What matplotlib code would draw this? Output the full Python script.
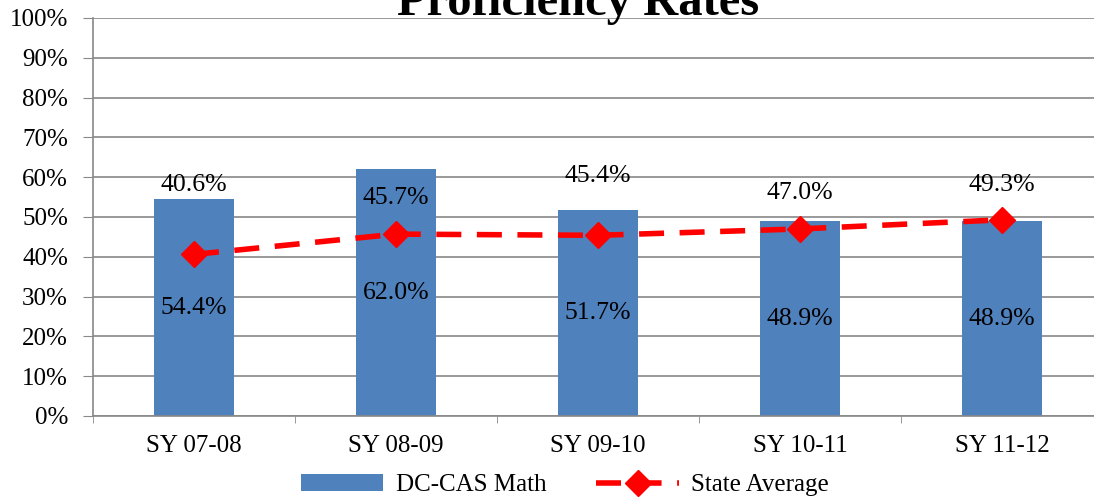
import matplotlib
matplotlib.use('Agg')
import numpy as np
import matplotlib.pyplot as plt

# data
years = ['SY 07-08', 'SY 08-09', 'SY 09-10', 'SY 10-11', 'SY 11-12']
dccas_math = [54.4, 62.0, 51.7, 48.9, 48.9]
state_avg = [40.6, 45.7, 45.4, 47.0, 49.3]

# label offsets above the line points (in % units)
state_lbl_off = [17.5, 9.0, 15.0, 9.0, 8.8]

plt.rcParams['font.family'] = ['Liberation Serif', 'DejaVu Serif']

fig = plt.figure(figsize=(10.94, 5), dpi=100)
ax = fig.add_axes([93 / 1094, 84 / 500, 1010 / 1094, 398 / 500])

x = np.arange(len(years))
bars = ax.bar(x, dccas_math, width=0.4, color='#4f81bd', zorder=2, label='DC-CAS Math')
line, = ax.plot(x, state_avg, color='#ff0000', lw=4, ls=(0, (4.5, 2.8)), marker='D',
                ms=13, zorder=3, label='State Average')

for i in range(len(x)):
    ax.text(x[i], dccas_math[i] / 2, '%.1f%%' % dccas_math[i], ha='center',
            va='center', fontsize=18.5, zorder=4)
    ax.text(x[i], state_avg[i] + state_lbl_off[i], '%.1f%%' % state_avg[i],
            ha='center', va='center', fontsize=18.5, zorder=4)

ax.set_xlim(-0.5, 4.5)
ax.set_ylim(0, 100)
ax.set_yticks(range(0, 101, 10))
ax.set_yticklabels(['%d%%' % v for v in range(0, 101, 10)], fontsize=18)
ax.set_xticks(x)
ax.set_xticklabels(years, fontsize=18)
ax.set_xticks(np.arange(-0.5, 5, 1), minor=True)
ax.tick_params(axis='x', which='major', length=0, pad=14)
ax.tick_params(axis='x', which='minor', length=5, color='#888888')
ax.tick_params(axis='y', length=7, color='#888888', pad=11)
ax.grid(axis='y', color='#888888', lw=1.2, zorder=1)
for s in ['top', 'right']:
    ax.spines[s].set_visible(False)
ax.spines['left'].set_color('#888888')
ax.spines['bottom'].set_color('#888888')
ax.spines['left'].set_linewidth(1.2)
ax.spines['bottom'].set_linewidth(1.2)

# title is cut off at the top, as in the source
fig.text(578 / 1094, 0.995, 'Proficiency Rates', ha='center', va='center',
         fontsize=35, fontweight='bold')

fig.legend([bars, line], ['DC-CAS Math', 'State Average'], loc='center',
           bbox_to_anchor=(565 / 1094, 15 / 500), ncol=2,
           frameon=False, fontsize=18, handlelength=3.3, columnspacing=2.0,
           handletextpad=0.5)

fig.savefig('out.png', dpi=100)
